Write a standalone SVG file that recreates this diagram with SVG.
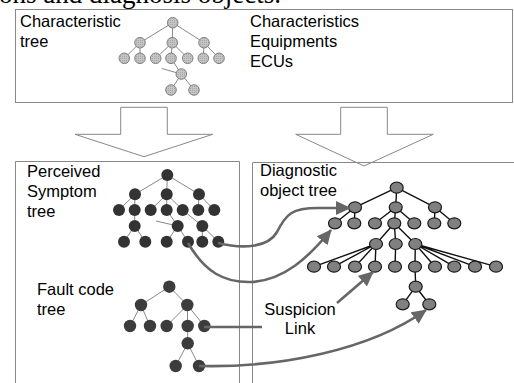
<svg xmlns="http://www.w3.org/2000/svg" width="514" height="383" viewBox="0 0 514 383">
<defs>
<style>
.lbl{font-family:"Liberation Sans",Arial,sans-serif;font-size:16.5px;fill:#000}
.box{fill:none;stroke:#888;stroke-width:1}
.big{fill:#fff;stroke:#888;stroke-width:1}
.te{stroke:#888;stroke-width:1;fill:none}
.de{stroke:#111;stroke-width:1.4;fill:none}
.tn{fill:url(#stip);stroke:#777;stroke-width:0.9}
.pn{fill:#333}
.fn{fill:#3c3c3c}
.dn{fill:#808080;stroke:#1a1a1a;stroke-width:1.2}
.con{fill:none;stroke:#666;stroke-width:2.6}
</style>
<pattern id="stip" patternUnits="userSpaceOnUse" width="2" height="2">
<rect width="2" height="2" fill="#c4c4c4"/>
<rect width="1" height="1" fill="#a8a8a8"/>
</pattern>
<marker id="ah" markerUnits="userSpaceOnUse" markerWidth="16" markerHeight="14" refX="14" refY="7" orient="auto">
<path d="M0,0 L15,7 L0,14 Z" fill="#666"/>
</marker>
</defs>
<rect width="514" height="383" fill="#fff"/>
<text x="-1" y="3" style="font-family:'Liberation Serif','Times New Roman',serif;font-size:27px;fill:#000">ons and diagnosis objects.</text>

<g id="characteristic-box">
<rect class="box" x="15.5" y="9.5" width="497" height="93"/>
<text class="lbl" x="20" y="27">Characteristic</text>
<text class="lbl" x="20" y="47">tree</text>
<text class="lbl" x="250" y="27">Characteristics</text>
<text class="lbl" x="250" y="47">Equipments</text>
<text class="lbl" x="250" y="67">ECUs</text>
</g>

<g id="characteristic-tree">
<path class="te" d="M172.7,22.7L140,42.7M172.7,22.7L172.3,42.7M172.7,22.7L204,42.7M140,42.7L124.3,58.3M140,42.7L140,58.3M172.3,42.7L155.7,58.3M172.3,42.7L171,58.3M172.3,42.7L187.7,58.3M204,42.7L203.3,58.3M204,42.7L219,58.3M171,58.3L181.3,74M161.7,68.5L181.3,74M181.3,74L171,90M181.3,74L194,90"/>
<circle class="tn" cx="172.7" cy="22.7" r="5.3"/>
<circle class="tn" cx="140" cy="42.7" r="5.3"/>
<circle class="tn" cx="172.3" cy="42.7" r="5.3"/>
<circle class="tn" cx="204" cy="42.7" r="5.3"/>
<circle class="tn" cx="124.3" cy="58.3" r="5.3"/>
<circle class="tn" cx="140" cy="58.3" r="5.3"/>
<circle class="tn" cx="155.7" cy="58.3" r="5.3"/>
<circle class="tn" cx="171" cy="58.3" r="5.3"/>
<circle class="tn" cx="187.7" cy="58.3" r="5.3"/>
<circle class="tn" cx="203.3" cy="58.3" r="5.3"/>
<circle class="tn" cx="219" cy="58.3" r="5.3"/>
<circle class="tn" cx="181.3" cy="74" r="5.3"/>
<circle class="tn" cx="171" cy="90" r="5.3"/>
<circle class="tn" cx="194" cy="90" r="5.3"/>
</g>

<g id="arrow-left">
<path class="big" d="M120.7,107.3 L167.3,107.3 L167.3,134.3 L212.7,134.3 L144,156.7 L75,134.3 L120.7,134.3 Z"/>
</g>
<g id="arrow-right">
<path class="big" d="M340.7,107.3 L387.3,107.3 L387.3,134.3 L433.3,134.3 L364,166 L295.7,134.3 L340.7,134.3 Z"/>
</g>

<g id="symptom-box">
<path class="box" d="M15.5,383 L15.5,161.5 L239.5,161.5 L239.5,383"/>
<text class="lbl" x="27" y="177">Perceived</text>
<text class="lbl" x="27" y="197">Symptom</text>
<text class="lbl" x="27" y="217">tree</text>
<text class="lbl" x="37" y="295">Fault code</text>
<text class="lbl" x="37" y="314.5">tree</text>
</g>

<g id="symptom-tree">
<path class="te" d="M167.3,175L135,194.3M167.3,175L166.7,194.3M167.3,175L199,194.3M135,194.3L119,210M135,194.3L134.7,210M166.7,194.3L150.7,210M166.7,194.3L166.7,210M166.7,194.3L182.7,210M199,194.3L198.3,210M199,194.3L214.3,210M134.7,210L134.7,226M134.7,226L124,241.7M134.7,226L145.3,241.7M166.7,210L177.7,226M156,221L177.7,226M177.7,226L166.7,241.7M177.7,226L188,241.7M182.7,210L202.3,226M202.3,226L202.3,241.7M202.3,226L218.3,241.7"/>
<circle class="pn" cx="167.3" cy="175" r="6"/>
<circle class="pn" cx="135" cy="194.3" r="6"/>
<circle class="pn" cx="166.7" cy="194.3" r="6"/>
<circle class="pn" cx="199" cy="194.3" r="6"/>
<circle class="pn" cx="119" cy="210" r="6"/>
<circle class="pn" cx="134.7" cy="210" r="6"/>
<circle class="pn" cx="150.7" cy="210" r="6"/>
<circle class="pn" cx="166.7" cy="210" r="6"/>
<circle class="pn" cx="182.7" cy="210" r="6"/>
<circle class="pn" cx="198.3" cy="210" r="6"/>
<circle class="pn" cx="214.3" cy="210" r="6"/>
<circle class="pn" cx="134.7" cy="226" r="6"/>
<circle class="pn" cx="177.7" cy="226" r="6"/>
<circle class="pn" cx="202.3" cy="226" r="6"/>
<circle class="pn" cx="124" cy="241.7" r="6"/>
<circle class="pn" cx="145.3" cy="241.7" r="6"/>
<circle class="pn" cx="166.7" cy="241.7" r="6"/>
<circle class="pn" cx="188" cy="241.7" r="6"/>
<circle class="pn" cx="202.3" cy="241.7" r="6"/>
<circle class="pn" cx="218.3" cy="241.7" r="6"/>
</g>

<g id="fault-tree">
<path class="te" d="M169.3,286.7L141,305M169.3,286.7L187.3,305M141,305L130,326M141,305L150,326M187.3,305L166.7,326M187.3,305L187.7,326M187.3,305L204.3,326M187.7,326L187.7,343.3M187.7,343.3L175.7,366M187.7,343.3L199,366"/>
<circle class="fn" cx="169.3" cy="286.7" r="6.2"/>
<circle class="fn" cx="141" cy="305" r="6.2"/>
<circle class="fn" cx="187.3" cy="305" r="6.2"/>
<circle class="fn" cx="130" cy="326" r="6.2"/>
<circle class="fn" cx="150" cy="326" r="6.2"/>
<circle class="fn" cx="166.7" cy="326" r="6.2"/>
<circle class="fn" cx="187.7" cy="326" r="6.2"/>
<circle class="fn" cx="204.3" cy="326" r="6.2"/>
<circle class="fn" cx="187.7" cy="343.3" r="6.2"/>
<circle class="fn" cx="175.7" cy="366" r="6.2"/>
<circle class="fn" cx="199" cy="366" r="6.2"/>
</g>

<g id="diagnostic-box">
<path class="box" d="M252.5,383 L252.5,162.5 L514,162.5"/>
<text class="lbl" x="260" y="176">Diagnostic</text>
<text class="lbl" x="260" y="196">object tree</text>
</g>

<g id="diagnostic-tree">
<path class="de" d="M396.7,187.7L355,207.3M396.7,187.7L395.7,207.3M396.7,187.7L435,207.3M355,207.3L335,223.3M355,207.3L354.3,223.3M395.7,207.3L375,223.3M395.7,207.3L394.3,223.3M395.7,207.3L414.3,223.3M435,207.3L434.3,223.3M435,207.3L454.3,223.3M394.3,223.3L376,244M394.3,223.3L395.7,244M394.3,223.3L415.3,244M376,244L314,266.7M376,244L334,266.7M376,244L355,266.7M376,244L375,266.7M395.7,244L395,266.7M415.3,244L415,266.7M415.3,244L435,266.7M415.3,244L454.3,266.7M415.3,244L475,266.7M415.3,244L496,266.7M415,266.7L415.7,286.7M415.7,286.7L402.7,304.3M415.7,286.7L429.3,304.3"/>
<ellipse class="dn" cx="396.7" cy="187.7" rx="6.5" ry="5.5"/>
<ellipse class="dn" cx="355" cy="207.3" rx="6.5" ry="5.5"/>
<ellipse class="dn" cx="395.7" cy="207.3" rx="6.5" ry="5.5"/>
<ellipse class="dn" cx="435" cy="207.3" rx="6.5" ry="5.5"/>
<ellipse class="dn" cx="335" cy="223.3" rx="6.5" ry="5.5"/>
<ellipse class="dn" cx="354.3" cy="223.3" rx="6.5" ry="5.5"/>
<ellipse class="dn" cx="375" cy="223.3" rx="6.5" ry="5.5"/>
<ellipse class="dn" cx="394.3" cy="223.3" rx="6.5" ry="5.5"/>
<ellipse class="dn" cx="414.3" cy="223.3" rx="6.5" ry="5.5"/>
<ellipse class="dn" cx="434.3" cy="223.3" rx="6.5" ry="5.5"/>
<ellipse class="dn" cx="454.3" cy="223.3" rx="6.5" ry="5.5"/>
<ellipse class="dn" cx="376" cy="244" rx="6.5" ry="5.5"/>
<ellipse class="dn" cx="395.7" cy="244" rx="6.5" ry="5.5"/>
<ellipse class="dn" cx="415.3" cy="244" rx="6.5" ry="5.5"/>
<ellipse class="dn" cx="314" cy="266.7" rx="6.5" ry="5.5"/>
<ellipse class="dn" cx="334" cy="266.7" rx="6.5" ry="5.5"/>
<ellipse class="dn" cx="355" cy="266.7" rx="6.5" ry="5.5"/>
<ellipse class="dn" cx="375" cy="266.7" rx="6.5" ry="5.5"/>
<ellipse class="dn" cx="395" cy="266.7" rx="6.5" ry="5.5"/>
<ellipse class="dn" cx="415" cy="266.7" rx="6.5" ry="5.5"/>
<ellipse class="dn" cx="435" cy="266.7" rx="6.5" ry="5.5"/>
<ellipse class="dn" cx="454.3" cy="266.7" rx="6.5" ry="5.5"/>
<ellipse class="dn" cx="475" cy="266.7" rx="6.5" ry="5.5"/>
<ellipse class="dn" cx="496" cy="266.7" rx="6.5" ry="5.5"/>
<ellipse class="dn" cx="415.7" cy="286.7" rx="6.5" ry="5.5"/>
<ellipse class="dn" cx="402.7" cy="304.3" rx="6.5" ry="5.5"/>
<ellipse class="dn" cx="429.3" cy="304.3" rx="6.5" ry="5.5"/>
</g>

<g id="connectors">
<path class="con" marker-end="url(#ah)" d="M218,243 C242,249 268,248 277,232 C286,214 292,208 318,208 L350,208"/>
<path class="con" marker-end="url(#ah)" d="M188,243 C205,272 224,283 252,282 C284,280 308,258 331,230"/>
<path class="con" d="M204,327 L262,327"/>
<path class="con" marker-end="url(#ah)" d="M337,303 L373,272"/>
<path class="con" marker-end="url(#ah)" d="M199,366 C280,368 370,350 426,310"/>
</g>
<g id="suspicion-label">
<text class="lbl" x="300" y="315" text-anchor="middle">Suspicion</text>
<text class="lbl" x="300" y="334" text-anchor="middle">Link</text>
</g>
</svg>
